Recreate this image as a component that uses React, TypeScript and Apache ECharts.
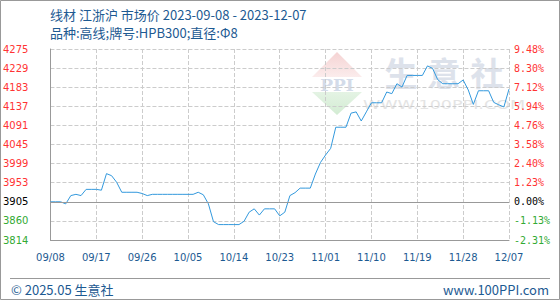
import React, { useEffect, useRef } from "react";
import * as echarts from "echarts";

const categories = [
  "09/08","09/09","09/10","09/11","09/12","09/13","09/14","09/15","09/16","09/17",
  "09/18","09/19","09/20","09/21","09/22","09/23","09/24","09/25","09/26","09/27",
  "09/28","09/29","09/30","10/01","10/02","10/03","10/04","10/05","10/06","10/07",
  "10/08","10/09","10/10","10/11","10/12","10/13","10/14","10/15","10/16","10/17",
  "10/18","10/19","10/20","10/21","10/22","10/23","10/24","10/25","10/26","10/27",
  "10/28","10/29","10/30","10/31","11/01","11/02","11/03","11/04","11/05","11/06",
  "11/07","11/08","11/09","11/10","11/11","11/12","11/13","11/14","11/15","11/16",
  "11/17","11/18","11/19","11/20","11/21","11/22","11/23","11/24","11/25","11/26",
  "11/27","11/28","11/29","11/30","12/01","12/02","12/03","12/04","12/05","12/06",
  "12/07",
];

const prices = [
  3905, 3905, 3905, 3900, 3920, 3923, 3920, 3935, 3935, 3935,
  3933, 3973, 3968, 3952, 3928, 3928, 3928, 3928, 3925, 3920,
  3923, 3923, 3923, 3923, 3923, 3923, 3923, 3923, 3923, 3928,
  3922, 3900, 3857, 3850, 3850, 3850, 3850, 3850, 3858, 3880,
  3888, 3873, 3888, 3888, 3888, 3871, 3880, 3920, 3927, 3938,
  3938, 3938, 3972, 4000, 4018, 4034, 4085, 4085, 4085, 4119,
  4122, 4100, 4122, 4144, 4144, 4144, 4170, 4166, 4190, 4182,
  4210, 4210, 4210, 4210, 4233, 4227, 4200, 4190, 4190, 4190,
  4190, 4199, 4175, 4140, 4173, 4173, 4173, 4145, 4139, 4134,
  4177,
];

const leftLabels = ["3814", "3860", "3905", "3953", "3999", "4045", "4091", "4137", "4183", "4229", "4275"];
const rightLabels = ["-2.31%", "-1.13%", "0.00%", "1.23%", "2.40%", "3.58%", "4.76%", "5.94%", "7.12%", "8.30%", "9.48%"];

const basePrice = 3905;
const axisStep = 46.1;
const axisMin = 3812.8;
const axisMax = 4273.8;

const titleLine1 = "线材 江浙沪 市场价 2023-09-08 - 2023-12-07";
const titleLine2 = "品种:高线;牌号:HPB300;直径:Φ8";
const footerLeft = "© 2025.05 生意社";
const footerRight = "www.100PPI.com";

const TEXT_BLUE = "#1d5a92";
const RED = "#ff3333";
const GREEN = "#33aa33";

function labelIndex(v: number) {
  return Math.round((v - axisMin) / axisStep);
}
function labelColor(v: any) {
  const i = labelIndex(Number(v));
  if (i < 2) return GREEN;
  if (i === 2) return "#000000";
  return RED;
}

export default function App() {
  const ref = useRef<HTMLDivElement>(null);
  useEffect(() => {
    document.body.style.margin = "0";
    if (!ref.current) return;
    const chart = echarts.init(ref.current, null, { renderer: "svg" });
    const cjk = '"Noto Sans CJK SC", sans-serif';
    chart.setOption({
      animation: false,
      backgroundColor: "#ffffff",
      grid: { left: 50, right: 51, top: 49, bottom: 60, containLabel: false },
      xAxis: {
        type: "category",
        data: categories,
        boundaryGap: false,
        axisLine: { lineStyle: { color: "#999999", width: 1 } },
        axisTick: { show: false },
        axisLabel: {
          interval: 8,
          color: TEXT_BLUE,
          fontFamily: "DejaVu Sans",
          fontSize: 10,
          margin: 12,
        },
        splitLine: { show: true, interval: 8, lineStyle: { color: "#cccccc", type: "dashed", width: 1 } },
      },
      yAxis: [
        {
          type: "value",
          position: "left",
          min: axisMin,
          max: axisMax,
          interval: axisStep,
          axisLine: { show: true, lineStyle: { color: "#999999", width: 1 } },
          axisTick: { show: false },
          splitLine: { show: true, lineStyle: { color: "#cccccc", type: "dashed", width: 1 } },
          axisLabel: {
            formatter: (v: number) => leftLabels[labelIndex(v)] ?? "",
            color: labelColor,
            fontFamily: "DejaVu Sans",
            fontSize: 10,
            margin: 22,
          },
        },
        {
          type: "value",
          position: "right",
          min: axisMin,
          max: axisMax,
          interval: axisStep,
          axisLine: { show: false },
          axisTick: { show: false },
          splitLine: { show: false },
          axisLabel: {
            formatter: (v: number) => rightLabels[labelIndex(v)] ?? "",
            color: labelColor,
            fontFamily: "DejaVu Sans Mono",
            fontSize: 10,
            margin: 5,
          },
        },
      ],
      series: [
        {
          type: "line",
          data: prices,
          yAxisIndex: 0,
          showSymbol: false,
          symbol: "none",
          color: "#3399dd",
          lineStyle: { color: "#3399dd", width: 1 },
          markLine: {
            silent: true,
            symbol: "none",
            label: { show: false },
            lineStyle: { color: "#999999", type: "solid", width: 1 },
            data: [{ yAxis: basePrice }],
          },
          z: 3,
        },
      ],
      graphic: [
        {
          type: "rect",
          shape: { x: 0.5, y: 0.5, width: 559, height: 299 },
          style: { fill: "none", stroke: "#999999", lineWidth: 1 },
          silent: true,
        },
        {
          type: "polygon",
          z: -10,
          shape: { points: [[312, 77], [362, 77], [337, 52]] },
          style: {
            fill: new echarts.graphic.LinearGradient(0, 0, 0, 1, [
              { offset: 0, color: "#f5d3d3" },
              { offset: 1, color: "#fbecec" },
            ]),
          },
          silent: true,
        },
        {
          type: "polygon",
          z: -10,
          shape: { points: [[312, 92], [362, 92], [337, 115]] },
          style: {
            fill: new echarts.graphic.LinearGradient(0, 0, 0, 1, [
              { offset: 0, color: "#e4f3e4" },
              { offset: 1, color: "#d3ecd3" },
            ]),
          },
          silent: true,
        },
        {
          type: "text",
          z: -9,
          x: 337,
          y: 84.5,
          style: {
            text: "PPI",
            fill: "#d3dbe9",
            fontFamily: "DejaVu Serif",
            fontWeight: "bold",
            fontSize: 17,
            align: "center",
            verticalAlign: "middle",
          },
          silent: true,
        },
        {
          type: "text",
          z: -10,
          x: 401,
          y: 72,
          style: { text: "生", fill: "#dde2eb", fontFamily: cjk, fontWeight: "bold", fontSize: 33, align: "center", verticalAlign: "middle" },
          silent: true,
        },
        {
          type: "text",
          z: -10,
          x: 444,
          y: 72,
          style: { text: "意", fill: "#dde2eb", fontFamily: cjk, fontWeight: "bold", fontSize: 33, align: "center", verticalAlign: "middle" },
          silent: true,
        },
        {
          type: "text",
          z: -10,
          x: 487,
          y: 72,
          style: { text: "社", fill: "#dde2eb", fontFamily: cjk, fontWeight: "bold", fontSize: 33, align: "center", verticalAlign: "middle" },
          silent: true,
        },
        {
          type: "text",
          z: -10,
          x: 444,
          y: 105,
          scaleX: 1.35,
          style: { text: "WWW.100PPI.COM", fill: "#e4e4e4", fontFamily: "DejaVu Sans", fontSize: 13, align: "center", verticalAlign: "middle" },
          silent: true,
        },
        {
          type: "text",
          x: 50,
          y: 14.5,
          style: { text: titleLine1, fill: TEXT_BLUE, fontFamily: cjk, fontSize: 13, verticalAlign: "middle" },
        },
        {
          type: "text",
          x: 50,
          y: 32.5,
          style: { text: titleLine2, fill: TEXT_BLUE, fontFamily: cjk, fontSize: 13, verticalAlign: "middle" },
        },
        {
          type: "line",
          shape: { x1: 10, y1: 278.5, x2: 550, y2: 278.5 },
          style: { stroke: "#999999", lineWidth: 1 },
          silent: true,
        },
        {
          type: "text",
          x: 11,
          y: 289,
          style: { text: footerLeft, fill: TEXT_BLUE, fontFamily: cjk, fontSize: 13, verticalAlign: "middle" },
        },
        {
          type: "text",
          x: 549,
          y: 289,
          style: { text: footerRight, fill: TEXT_BLUE, fontFamily: cjk, fontSize: 13, align: "right", verticalAlign: "middle" },
        },
      ],
    });
    return () => chart.dispose();
  }, []);
  return <div ref={ref} style={{ width: 560, height: 300 }} />;
}
